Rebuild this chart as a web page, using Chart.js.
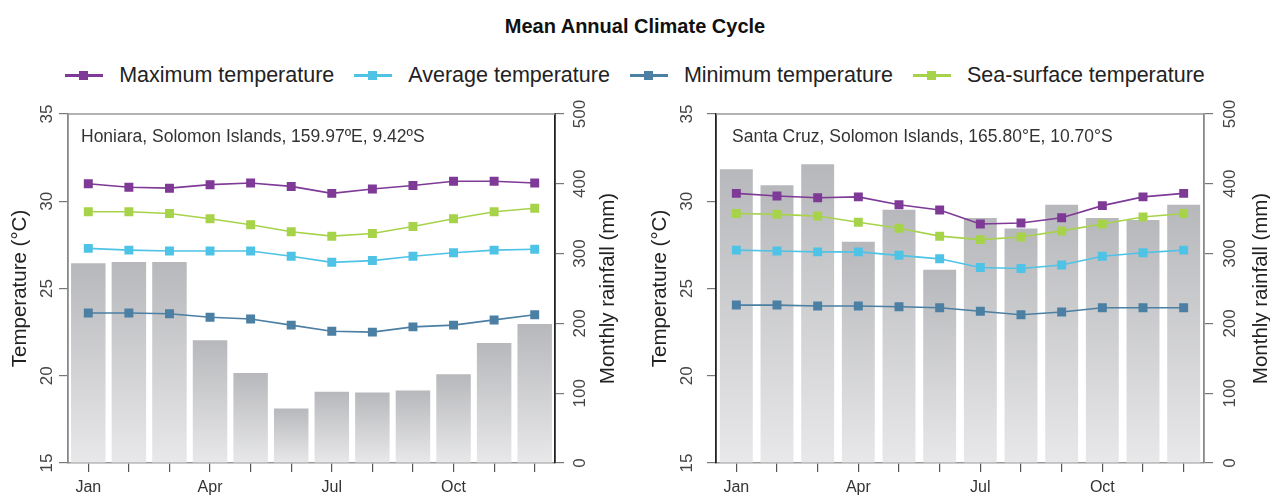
<!DOCTYPE html>
<html>
<head>
<meta charset="utf-8">
<script src="https://cdn.jsdelivr.net/npm/chart.js@4.4.1/dist/chart.umd.min.js"></script>
<style>
  html, body { margin: 0; padding: 0; background: #fff; }
  #wrap { position: relative; width: 1270px; height: 498px; overflow: hidden; font-family: 'Liberation Sans', Arial, sans-serif; }
  #title { position: absolute; left: 0; top: 15px; width: 1270px; text-align: center; font-weight: bold; font-size: 20px; color: #111; }
  #legend { position: absolute; left: 0; top: 63px; width: 1270px; display: flex; justify-content: center; align-items: center; font-size: 21.5px; color: #222; }
  .item { display: flex; align-items: center; margin: 0 10px; }
  .mk { position: relative; width: 38px; height: 3px; margin-right: 16px; }
  .mk::after { content: ''; position: absolute; left: 14px; top: -3px; width: 9px; height: 9px; background: inherit; }
  .cv { position: absolute; top: 100px; }
</style>
</head>
<body>
<div id="wrap">
  <div id="title">Mean Annual Climate Cycle</div>
  <div id="legend"></div>
  <canvas id="c1" class="cv" width="635" height="398" style="left:0px;width:635px;height:398px"></canvas>
  <canvas id="c2" class="cv" width="635" height="398" style="left:635px;width:635px;height:398px"></canvas>
</div>
<script>
// ---- Data ----
const months = ['Jan','Feb','Mar','Apr','May','Jun','Jul','Aug','Sep','Oct','Nov','Dec'];
const xTickLabels = ['Jan','','','Apr','','','Jul','','','Oct','',''];
const seriesNames = ['Maximum temperature','Average temperature','Minimum temperature','Sea-surface temperature'];
const tempTicks = [15, 20, 25, 30, 35];
const rainTicks = [0, 100, 200, 300, 400, 500];

// Honiara
const honiaraMax  = [31.0, 30.8, 30.75, 30.95, 31.05, 30.85, 30.45, 30.7, 30.9, 31.15, 31.15, 31.05];
const honiaraAvg  = [27.3, 27.2, 27.15, 27.15, 27.15, 26.85, 26.5, 26.6, 26.85, 27.05, 27.2, 27.25];
const honiaraMin  = [23.6, 23.6, 23.55, 23.35, 23.25, 22.9, 22.55, 22.5, 22.8, 22.9, 23.2, 23.5];
const honiaraSST  = [29.4, 29.4, 29.3, 29.0, 28.65, 28.25, 28.0, 28.15, 28.55, 29.0, 29.4, 29.6];
const honiaraRain = [286, 288, 288, 176, 129, 78, 102, 101, 104, 127, 172, 199];

// Santa Cruz
const santaCruzMax  = [30.45, 30.3, 30.2, 30.25, 29.8, 29.5, 28.7, 28.75, 29.05, 29.75, 30.25, 30.45];
const santaCruzAvg  = [27.2, 27.15, 27.1, 27.1, 26.9, 26.7, 26.2, 26.15, 26.35, 26.85, 27.05, 27.2];
const santaCruzMin  = [24.05, 24.05, 24.0, 24.0, 23.95, 23.9, 23.7, 23.5, 23.65, 23.9, 23.9, 23.9];
const santaCruzSST  = [29.3, 29.25, 29.15, 28.8, 28.45, 28.0, 27.8, 27.95, 28.3, 28.7, 29.1, 29.3];
const santaCruzRain = [421, 398, 428, 317, 363, 277, 351, 336, 370, 351, 348, 370];

const colors = ['#7E3A96', '#4EC3E6', '#4B7FA3', '#A7D34B'];

// ---- Legend (HTML) ----
const lg = document.getElementById('legend');
seriesNames.forEach((n, i) => {
  const it = document.createElement('div'); it.className = 'item';
  const mk = document.createElement('span'); mk.className = 'mk'; mk.style.background = colors[i];
  const tx = document.createElement('span'); tx.textContent = n;
  it.appendChild(mk); it.appendChild(tx); lg.appendChild(it);
});

Chart.defaults.font.family = "'Liberation Sans', Arial, sans-serif";

function barGradient(context) {
  const chart = context.chart;
  const area = chart.chartArea;
  if (!area || context.type !== 'data') return '#c8c9cb';
  const sc = chart.scales.y2;
  const top = sc.getPixelForValue(context.raw);
  const g = chart.ctx.createLinearGradient(0, top, 0, area.bottom);
  g.addColorStop(0, '#b7b8bb');
  g.addColorStop(1, '#e8e8ea');
  return g;
}

const overlay = {
  id: 'overlay',
  afterDraw(chart, args, o) {
    const ctx = chart.ctx, a = chart.chartArea;
    ctx.save();
    // top border
    ctx.strokeStyle = '#999'; ctx.lineWidth = 1.5;
    ctx.beginPath(); ctx.moveTo(a.left, a.top); ctx.lineTo(a.right, a.top); ctx.stroke();
    // rotated tick labels
    ctx.fillStyle = '#444';
    ctx.font = "17px 'Liberation Sans', Arial, sans-serif";
    ctx.textAlign = 'center'; ctx.textBaseline = 'middle';
    const drawRot = (txt, x, y) => { ctx.save(); ctx.translate(x, y); ctx.rotate(-Math.PI / 2); ctx.fillText(txt, 0, 0); ctx.restore(); };
    const ys = chart.scales.y, y2 = chart.scales.y2;
    tempTicks.forEach(v => drawRot(String(v), a.left - o.leftOff, ys.getPixelForValue(v)));
    rainTicks.forEach(v => drawRot(String(v), a.right + o.rightOff, y2.getPixelForValue(v)));
    // axis titles
    ctx.fillStyle = '#222';
    ctx.font = "20.5px 'Liberation Sans', Arial, sans-serif";
    const cy = (a.top + a.bottom) / 2;
    drawRot('Temperature (°C)', o.leftTitleX, cy);
    drawRot('Monthly rainfall (mm)', o.rightTitleX, cy);
    // station annotation
    ctx.fillStyle = '#333';
    ctx.font = "17.5px 'Liberation Sans', Arial, sans-serif";
    ctx.textAlign = 'left';
    ctx.fillText(o.station, a.left + o.stationDx, a.top + 23);
    ctx.restore();
  }
};

function makeChart(id, d, o) {
  const lineDs = (label, data, color) => ({
    type: 'line', label, data, yAxisID: 'y', order: 1,
    borderColor: color, backgroundColor: color, borderWidth: 1.6,
    pointStyle: 'rect', pointRadius: 5.2, pointHoverRadius: 5.2, tension: 0
  });
  return new Chart(document.getElementById(id), {
    type: 'bar',
    data: {
      labels: months,
      datasets: [
        lineDs(seriesNames[0], d.max, colors[0]),
        lineDs(seriesNames[3], d.sst, colors[3]),
        lineDs(seriesNames[1], d.avg, colors[1]),
        lineDs(seriesNames[2], d.min, colors[2]),
        { type: 'bar', label: 'Monthly rainfall', data: d.rain, yAxisID: 'y2', order: 10,
          backgroundColor: barGradient, borderWidth: 0, barPercentage: o.barPct, categoryPercentage: 1 }
      ]
    },
    options: {
      responsive: false, animation: false, devicePixelRatio: 1,
      layout: { padding: { top: 14, left: 0, right: 0, bottom: 0 } },
      plugins: { legend: { display: false }, tooltip: { enabled: false }, overlay: o },
      scales: {
        x: {
          offset: true,
          grid: { display: true, drawOnChartArea: false, drawTicks: true, tickLength: 9, offset: false, color: '#555', lineWidth: 1.2 },
          border: { display: true, color: '#999', width: 1.5 },
          ticks: { autoSkip: false, maxRotation: 0, minRotation: 0, padding: 6, color: '#333', font: { size: 16 },
                   callback: (v, i) => xTickLabels[i] },
          afterFit: s => { s.height = 35; }
        },
        y: {
          position: 'left', min: 15, max: 35,
          ticks: { stepSize: 5, display: false },
          grid: { drawOnChartArea: false, tickLength: 9, color: '#777', lineWidth: 1.2 },
          border: { display: true, color: o.leftAxisColor, width: 1.8 },
          afterFit: s => { s.width = o.leftW; }
        },
        y2: {
          position: 'right', min: 0, max: 500,
          ticks: { stepSize: 100, display: false },
          grid: { drawOnChartArea: false, tickLength: 9, color: '#777', lineWidth: 1.2 },
          border: { display: true, color: o.rightAxisColor, width: 1.8 },
          afterFit: s => { s.width = o.rightW; }
        }
      }
    },
    plugins: [overlay]
  });
}

makeChart('c1',
  { max: honiaraMax, avg: honiaraAvg, min: honiaraMin, sst: honiaraSST, rain: honiaraRain },
  { leftW: 68, rightW: 80, leftOff: 21, rightOff: 25, leftTitleX: 20, rightTitleX: 608,
    station: 'Honiara, Solomon Islands, 159.97ºE, 9.42ºS', stationDx: 13, barPct: 0.85,
    leftAxisColor: '#888', rightAxisColor: '#222' });

makeChart('c2',
  { max: santaCruzMax, avg: santaCruzAvg, min: santaCruzMin, sst: santaCruzSST, rain: santaCruzRain },
  { leftW: 81, rightW: 66, leftOff: 29, rightOff: 26, leftTitleX: 25, rightTitleX: 626,
    station: 'Santa Cruz, Solomon Islands, 165.80°E, 10.70°S', stationDx: 16, barPct: 0.81,
    leftAxisColor: '#222', rightAxisColor: '#888' });
</script>
</body>
</html>
